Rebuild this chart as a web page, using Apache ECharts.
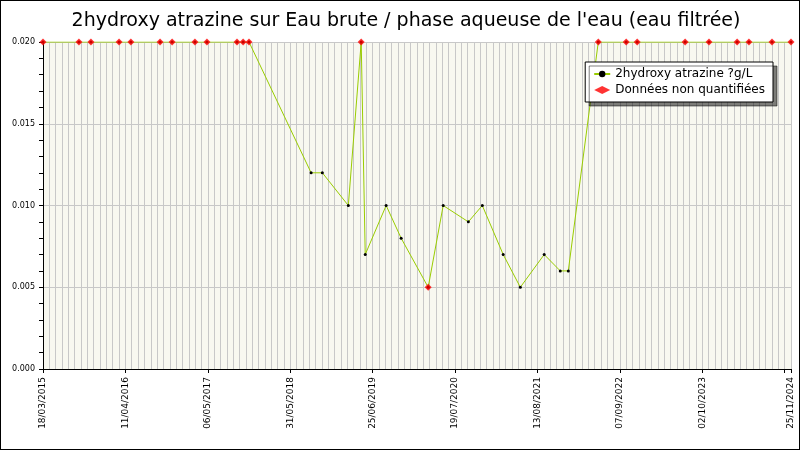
<!DOCTYPE html>
<html><head><meta charset="utf-8">
<script src="https://cdn.jsdelivr.net/npm/echarts@6/dist/echarts.min.js"></script>
<style>html,body{margin:0;padding:0;background:#fff}#c{width:798px;height:448px;border:1px solid #000}</style>
</head><body><div id="c"></div>
<script>
const dates = ['2015-03-18','2015-09-04','2015-10-31','2016-03-12','2016-05-07','2016-09-22','2016-11-18','2017-03-06','2017-05-02','2017-09-21','2017-10-20','2017-11-17','2018-09-07','2018-10-30','2019-03-02','2019-05-02','2019-05-21','2019-08-28','2019-11-07','2020-03-14','2020-05-24','2020-09-20','2020-11-25','2021-03-04','2021-05-24','2021-09-14','2021-11-29','2022-01-06','2022-05-28','2022-10-07','2022-11-28','2023-07-13','2023-11-03','2024-03-15','2024-05-10','2024-08-27','2024-11-25'];
const values = [0.02,0.02,0.02,0.02,0.02,0.02,0.02,0.02,0.02,0.02,0.02,0.02,0.012,0.012,0.01,0.02,0.007,0.01,0.008,0.005,0.01,0.009,0.01,0.007,0.005,0.007,0.006,0.006,0.02,0.02,0.02,0.02,0.02,0.02,0.02,0.02,0.02];
const nonQuantified = [1,1,1,1,1,1,1,1,1,1,1,1,0,0,0,1,0,0,0,1,0,0,0,0,0,0,0,0,1,1,1,1,1,1,1,1,1];
const yTicks = [0, 0.005, 0.01, 0.015, 0.02];
const DAY = 86400000;
const ts = d => { const [y,m,dd] = d.split('-').map(Number); return Date.UTC(y,m-1,dd); };
const xMin = ts('2015-03-18'), xMax = ts('2024-11-25');
const pad = n => (n<10?'0':'')+n;
const fmt = v => { const d = new Date(v); return pad(d.getUTCDate())+'/'+pad(d.getUTCMonth()+1)+'/'+d.getUTCFullYear(); };
const lineData = dates.map((d,i)=>[ts(d), values[i]]);
const redData = dates.map((d,i)=>[ts(d), values[i]]).filter((p,i)=>nonQuantified[i]);
const chart = echarts.init(document.getElementById('c'));
const ff = 'DejaVu Sans';
chart.setOption({
  animation:false,
  title:{text:'2hydroxy atrazine sur Eau brute / phase aqueuse de l\'eau (eau filtrée)',left:400,top:6,textAlign:'center',textStyle:{fontFamily:ff,fontWeight:'normal',fontSize:19,color:'#000'}},
  grid:{left:42,right:8,top:41,bottom:80,backgroundColor:'#f8f8f0',show:true,borderWidth:0,containLabel:false,outerBoundsMode:'none'},
  legend:{right:26,top:61,orient:'vertical',backgroundColor:'#fff',borderColor:'#000',borderWidth:1,padding:[6,8,6,8],itemGap:4,
    shadowColor:'rgba(0,0,0,0.5)',shadowOffsetX:4,shadowOffsetY:4,
    textStyle:{fontFamily:ff,fontSize:12,color:'#000'},itemWidth:16,itemHeight:8,
    data:['2hydroxy atrazine ?g/L','Données non quantifiées']},
  xAxis:{type:'value',min:xMin,max:xMax,interval:390*DAY,
    axisLine:{lineStyle:{color:'#000'}},axisTick:{show:true,length:4,lineStyle:{color:'#000'}},
    minorTick:{show:false,splitNumber:13},
    minorSplitLine:{show:true,lineStyle:{color:'#c8c8c8'}},
    splitLine:{show:true,lineStyle:{color:'#c8c8c8'}},
    axisLabel:{rotate:90,fontFamily:ff,fontSize:9,color:'#000',showMaxLabel:true,
      formatter:v=> (v!==xMax && xMax-v<60*DAY) ? '' : fmt(v)}},
  yAxis:{type:'value',min:0,max:0.02,interval:0.005,
    name:'2hydroxy atrazine ?g/L',nameLocation:'middle',nameGap:29,nameTextStyle:{fontFamily:ff,fontSize:12,color:'#000'},
    axisLine:{show:true,lineStyle:{color:'#000'}},axisTick:{show:true,length:4,lineStyle:{color:'#000'}},
    minorTick:{show:true,splitNumber:5,length:4,lineStyle:{color:'#000'}},
    splitLine:{show:true,lineStyle:{color:'#c8c8c8'}},
    axisLabel:{fontFamily:ff,fontSize:8,color:'#000',formatter:v=>v.toFixed(3)}},
  series:[
    {name:'2hydroxy atrazine ?g/L',type:'line',data:lineData,symbol:'circle',symbolSize:3,
     lineStyle:{color:'#99cc00',width:1},itemStyle:{color:'#000'}},
    {name:'Données non quantifiées',type:'scatter',data:redData,symbol:'diamond',symbolSize:7,
     itemStyle:{color:'#ff0000'},z:5}
  ]
});
</script></body></html>
